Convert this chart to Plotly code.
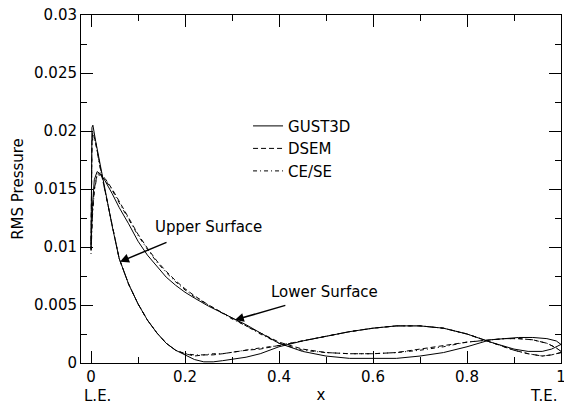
import plotly.graph_objects as go

# Chordwise stations (x/c) on each surface
x_upper = [0, 0.002, 0.004, 0.01, 0.02, 0.03, 0.045, 0.06, 0.08, 0.10, 0.12, 0.14, 0.16,
           0.18, 0.20, 0.22, 0.24, 0.26, 0.28, 0.30, 0.33, 0.36, 0.40, 0.45, 0.50, 0.55,
           0.60, 0.65, 0.70, 0.75, 0.80, 0.85, 0.90, 0.93, 0.96, 0.98, 1.0]
x_lower = [0, 0.003, 0.007, 0.013, 0.02, 0.03, 0.045, 0.06, 0.08, 0.10, 0.12, 0.14, 0.16,
           0.18, 0.20, 0.22, 0.25, 0.28, 0.30, 0.33, 0.36, 0.40, 0.45, 0.50, 0.55, 0.60,
           0.65, 0.70, 0.75, 0.80, 0.85, 0.88, 0.91, 0.94, 0.97, 0.99, 1.0]

# RMS pressure, upper surface
gust3d_upper = [0.0098, 0.0203, 0.0205, 0.0191, 0.0168, 0.0148, 0.0118, 0.0090, 0.0068,
                0.0051, 0.0037, 0.0026, 0.0017, 0.0011, 0.0007, 0.0003, 0.0001, 0.0001,
                0.0002, 0.0003, 0.0005, 0.0008, 0.0014, 0.0019, 0.0023, 0.0027, 0.0030,
                0.0032, 0.0032, 0.0030, 0.0025, 0.0018, 0.0012, 0.0010, 0.0010, 0.0012,
                0.0016]
dsem_upper = [0.0102, 0.0192, 0.0199, 0.0190, 0.0168, 0.0148, 0.0118, 0.0090, 0.0068,
              0.0051, 0.0037, 0.0026, 0.0017, 0.0011, 0.0008, 0.0006, 0.0007, 0.0007,
              0.0008, 0.0009, 0.0011, 0.0012, 0.0015, 0.0019, 0.0023, 0.0027, 0.0030,
              0.0032, 0.0032, 0.0030, 0.0025, 0.0018, 0.0011, 0.0008, 0.0006, 0.0007,
              0.0009]
cese_upper = [0.0094, 0.0188, 0.0195, 0.0189, 0.0167, 0.0147, 0.0118, 0.0090, 0.0068,
              0.0051, 0.0037, 0.0026, 0.0017, 0.0011, 0.0008, 0.0007, 0.0007, 0.0008,
              0.0008, 0.0009, 0.0011, 0.0013, 0.0015, 0.0019, 0.0023, 0.0027, 0.0030,
              0.0032, 0.0032, 0.0030, 0.0025, 0.0018, 0.0011, 0.0008, 0.0006, 0.0007,
              0.0009]

# RMS pressure, lower surface
gust3d_lower = [0.0098, 0.0135, 0.0158, 0.0165, 0.0163, 0.0157, 0.0146, 0.0134, 0.0120,
                0.0105, 0.0093, 0.0083, 0.0074, 0.0067, 0.0061, 0.0056, 0.0049, 0.0043,
                0.0039, 0.0033, 0.0026, 0.0017, 0.0010, 0.0006, 0.0004, 0.0004, 0.0004,
                0.0006, 0.0009, 0.0014, 0.0020, 0.0021, 0.0022, 0.0022, 0.0021, 0.0019,
                0.0016]
dsem_lower = [0.0102, 0.0130, 0.0150, 0.0163, 0.0163, 0.0159, 0.0150, 0.0139, 0.0125,
              0.0111, 0.0099, 0.0088, 0.0079, 0.0071, 0.0064, 0.0058, 0.0050, 0.0043,
              0.0039, 0.0032, 0.0026, 0.0018, 0.0012, 0.0009, 0.0008, 0.0008, 0.0009,
              0.0012, 0.0015, 0.0018, 0.0020, 0.0021, 0.0021, 0.0020, 0.0017, 0.0013,
              0.0010]
cese_lower = [0.0094, 0.0126, 0.0148, 0.0162, 0.0162, 0.0158, 0.0149, 0.0138, 0.0124,
              0.0110, 0.0098, 0.0087, 0.0078, 0.0070, 0.0063, 0.0057, 0.0050, 0.0043,
              0.0038, 0.0032, 0.0025, 0.0017, 0.0011, 0.0009, 0.0008, 0.0008, 0.0009,
              0.0011, 0.0014, 0.0018, 0.0020, 0.0021, 0.0021, 0.0020, 0.0017, 0.0013,
              0.0010]

series = [
    ("GUST3D", gust3d_upper, gust3d_lower, "solid"),
    ("DSEM", dsem_upper, dsem_lower, "5px,3px"),
    ("CE/SE", cese_upper, cese_lower, "4px,3px,1px,3px"),
]

x_ticks = [0, 0.2, 0.4, 0.6, 0.8, 1]
y_ticks = [0, 0.005, 0.01, 0.015, 0.02, 0.025, 0.03]

FONT = "DejaVu Sans"

fig = go.Figure()
for name, up, lo, dash in series:
    # trailing edge -> leading edge along the upper surface, then back along the lower
    xs = x_upper[::-1] + x_lower
    ys = up[::-1] + lo
    fig.add_trace(go.Scatter(x=xs, y=ys, mode="lines", name=name,
                             line=dict(color="black", width=1, dash=dash)))

axis_common = dict(
    showline=True, linecolor="black", linewidth=1, mirror="ticks",
    ticks="inside", ticklen=12, tickwidth=1, tickcolor="black",
    showgrid=False, zeroline=False, automargin=False,
    tickfont=dict(family=FONT, size=15, color="black"),
)

fig.update_xaxes(range=[-0.0213, 1.0], tickvals=x_ticks,
                 ticktext=[f"{v:g}" for v in x_ticks],
                 ticklabeloverflow="allow",
                 minor=dict(dtick=0.1, tick0=0, ticks="inside", ticklen=6,
                            tickcolor="black", tickwidth=1),
                 title=dict(text="x", font=dict(family=FONT, size=15), standoff=4),
                 **axis_common)
fig.update_yaxes(range=[0, 0.03], tickvals=y_ticks,
                 ticktext=[f"{v:g}" for v in y_ticks],
                 minor=dict(dtick=0.0025, tick0=0, ticks="inside", ticklen=6,
                            tickcolor="black", tickwidth=1),
                 title=dict(text="RMS Pressure", font=dict(family=FONT, size=15), standoff=6),
                 **axis_common)

annotations = [
    # surface labels with their pointer arrows
    dict(x=0.249, y=0.01172, text="Upper Surface", showarrow=False,
         xanchor="center", yanchor="middle"),
    dict(x=0.0617, y=0.00873, text="", showarrow=True, ax=48, ay=-20,
         arrowhead=2, arrowsize=1.2, arrowwidth=1.5, arrowcolor="black"),
    dict(x=0.496, y=0.00612, text="Lower Surface", showarrow=False,
         xanchor="center", yanchor="middle"),
    dict(x=0.306, y=0.00371, text="", showarrow=True, ax=52, ay=-15,
         arrowhead=2, arrowsize=1.2, arrowwidth=1.5, arrowcolor="black"),
    # leading / trailing edge markers under the x axis
    dict(x=0.0128, y=-0.095, yref="paper", text="L.E.", showarrow=False,
         xanchor="center", yanchor="middle"),
    dict(x=0.962, y=-0.095, yref="paper", text="T.E.", showarrow=False,
         xanchor="center", yanchor="middle"),
]
for a in annotations:
    a.setdefault("xref", "x")
    a.setdefault("yref", "y")
    a["font"] = dict(family=FONT, size=15, color="black")

fig.update_layout(
    width=564, height=406,
    margin=dict(l=81, r=3, t=15, b=43),
    paper_bgcolor="white", plot_bgcolor="white",
    font=dict(family=FONT, size=15, color="black"),
    showlegend=True,
    legend=dict(x=0.348, y=0.728, xanchor="left", yanchor="top",
                bgcolor="rgba(0,0,0,0)", borderwidth=0,
                font=dict(family=FONT, size=15, color="black"),
                tracegroupgap=0),
    annotations=annotations,
)

fig.write_html("out.html")
